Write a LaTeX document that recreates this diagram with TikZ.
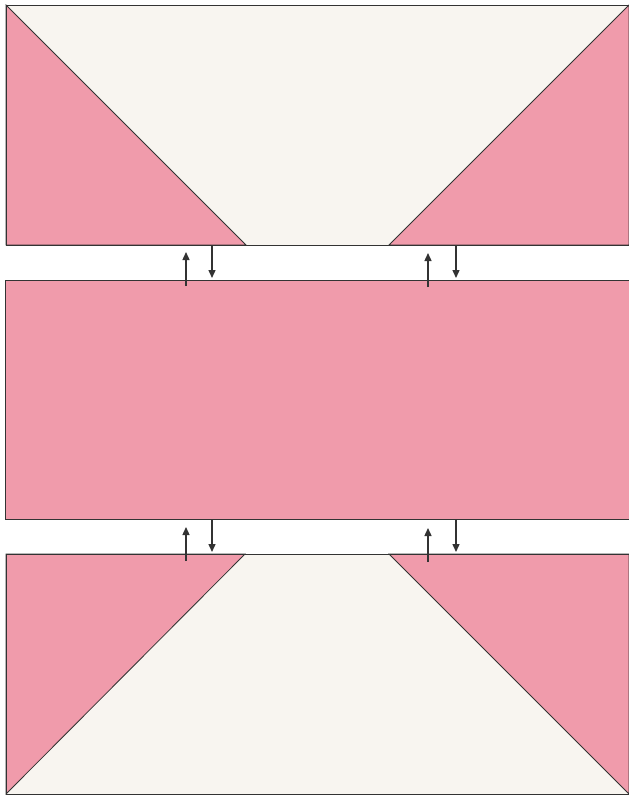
\documentclass[tikz,border=0pt]{standalone}
\usetikzlibrary{arrows.meta}
\definecolor{pinkc}{HTML}{F09BAB}
\definecolor{creamc}{HTML}{F8F5F0}
\definecolor{edgec}{HTML}{333333}
\tikzset{
  blk/.style={draw=edgec, line width=0.8pt},
  tri/.style={fill=pinkc, draw=edgec, line width=0.8pt},
  flow/.style={draw=edgec, line width=1.4pt, -{Triangle[length=8pt,width=7pt]}}
}
\begin{document}
\begin{tikzpicture}[x=1pt,y=-1pt]
\useasboundingbox (0,0) rectangle (629,796);
% top block
\fill[creamc] (6,5) rectangle (629,245);
\filldraw[tri] (6,5) -- (246,245) -- (6,245) -- cycle;
\filldraw[tri] (629,5) -- (389,245) -- (629,245) -- cycle;
\draw[blk] (6,5) rectangle (629,245);
\node[inner sep=0, minimum width=623pt, minimum height=240pt] (top) at (317.5,125) {};
% middle block
\filldraw[blk, fill=pinkc] (5.5,280) rectangle (629,519);
\node[inner sep=0, minimum width=623pt, minimum height=239pt] (mid) at (317.5,399.5) {};
% bottom block
\fill[creamc] (6,554) rectangle (629,794);
\filldraw[tri] (6,554) -- (245,554) -- (6,794) -- cycle;
\filldraw[tri] (389,554) -- (629,554) -- (629,794) -- cycle;
\draw[blk] (6,554) rectangle (629,794);
\node[inner sep=0, minimum width=623pt, minimum height=240pt] (bot) at (317.5,674) {};
% arrows between top and middle
\coordinate (a1s) at (186,286); \coordinate (a1e) at (186,252);
\coordinate (a2s) at (212,245); \coordinate (a2e) at (212,278);
\coordinate (a3s) at (428,287); \coordinate (a3e) at (428,253);
\coordinate (a4s) at (456,245); \coordinate (a4e) at (456,278);
\draw[flow] (a1s) -- (a1e);
\draw[flow] (a2s) -- (a2e);
\draw[flow] (a3s) -- (a3e);
\draw[flow] (a4s) -- (a4e);
% arrows between middle and bottom
\coordinate (b1s) at (186,561); \coordinate (b1e) at (186,527);
\coordinate (b2s) at (212,519); \coordinate (b2e) at (212,552);
\coordinate (b3s) at (428,562); \coordinate (b3e) at (428,528);
\coordinate (b4s) at (456,519); \coordinate (b4e) at (456,552);
\draw[flow] (b1s) -- (b1e);
\draw[flow] (b2s) -- (b2e);
\draw[flow] (b3s) -- (b3e);
\draw[flow] (b4s) -- (b4e);
\end{tikzpicture}
\end{document}
